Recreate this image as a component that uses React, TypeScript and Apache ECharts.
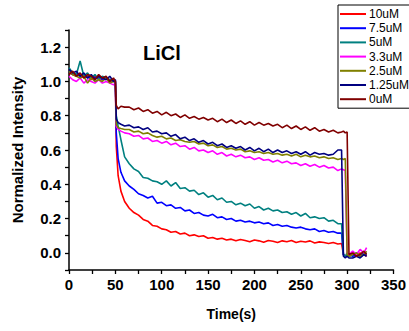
import React, { useEffect, useRef } from "react";
import * as echarts from "echarts";

const seriesNames = ["10uM", "7.5uM", "5uM", "3.3uM", "2.5uM", "1.25uM", "0uM"];
const seriesColors = ["#FF0000", "#0000FF", "#008080", "#FF00FF", "#808000", "#000080", "#800000"];

const time = [
  0, 4, 8, 12, 16, 20, 24, 28, 32, 36, 40, 44, 48,
  50, 51, 53, 56, 60,
  65, 70, 75, 80, 85, 90, 95, 100, 105, 110, 115, 120, 125, 130, 135, 140, 145, 150, 155, 160,
  165, 170, 175, 180, 185, 190, 195, 200, 205, 210, 215, 220, 225, 230, 235, 240, 245, 250, 255,
  260, 265, 270, 275, 280, 285, 290,
  294, 296, 298, 300, 302,
  306, 310, 314, 318, 321,
];

const v10 = [
  1.05, 1.04, 1.03, 1.04, 1.02, 1.03, 1.01, 1.03, 1.02, 1.01, 1.02, 1.0, 1.01,
  1.0, 0.62, 0.45, 0.36, 0.3,
  0.26, 0.235, 0.22, 0.195, 0.185, 0.16, 0.155, 0.14, 0.135, 0.12, 0.125, 0.11, 0.115, 0.1, 0.105, 0.095,
  0.1, 0.085, 0.09, 0.08, 0.085, 0.075, 0.08, 0.07, 0.078, 0.072, 0.065, 0.075, 0.07, 0.062, 0.072, 0.068,
  0.06, 0.07, 0.065, 0.072, 0.06, 0.068, 0.063, 0.07, 0.058, 0.064, 0.06, 0.055, 0.06, 0.052,
  0.055, -0.01, -0.02, -0.01, -0.02,
  -0.01, -0.02, 0.0, -0.01, -0.02,
];
const v7_5 = [
  1.06, 1.04, 1.05, 1.03, 1.04, 1.02, 1.03, 1.02, 1.03, 1.01, 1.02, 1.01, 1.0,
  1.01, 0.7, 0.55, 0.47, 0.42,
  0.39, 0.37, 0.345, 0.335, 0.32, 0.33, 0.29, 0.295, 0.275, 0.28, 0.26, 0.265, 0.245, 0.25, 0.23, 0.235,
  0.22, 0.215, 0.225, 0.205, 0.21, 0.195, 0.2, 0.185, 0.19, 0.18, 0.185, 0.175, 0.18, 0.17, 0.175, 0.16,
  0.165, 0.155, 0.16, 0.15, 0.145, 0.15, 0.14, 0.135, 0.14, 0.125, 0.13, 0.12, 0.125, 0.115,
  0.115, -0.01, -0.02, -0.02, -0.01,
  -0.02, -0.01, -0.02, 0.0, -0.01,
];
const v5 = [
  1.08, 1.05, 1.04, 1.12, 1.03, 1.05, 1.02, 1.04, 1.01, 1.03, 1.02, 1.01, 1.0,
  1.0, 0.8, 0.74, 0.66, 0.56,
  0.52, 0.49, 0.475, 0.44, 0.435, 0.42, 0.415, 0.4, 0.42, 0.39, 0.41, 0.375, 0.38, 0.36, 0.365, 0.34,
  0.35, 0.325, 0.335, 0.31, 0.32, 0.295, 0.3, 0.28, 0.29, 0.275, 0.285, 0.26, 0.27, 0.25, 0.26, 0.245,
  0.25, 0.235, 0.24, 0.225, 0.235, 0.215, 0.23, 0.205, 0.21, 0.2, 0.205, 0.185, 0.19, 0.17,
  0.17, -0.01, -0.02, 0.0, -0.02,
  -0.01, 0.0, -0.02, -0.01, 0.0,
];
const v3_3 = [
  1.03, 1.01, 1.0, 1.02, 0.99, 1.01, 1.0, 0.99, 1.01, 0.99, 1.0, 0.99, 0.98,
  0.99, 0.74, 0.72, 0.71, 0.7,
  0.695, 0.68, 0.685, 0.665, 0.67, 0.65, 0.655, 0.64, 0.65, 0.63, 0.64, 0.62, 0.625, 0.605, 0.615, 0.595,
  0.6, 0.585, 0.595, 0.575, 0.585, 0.565, 0.575, 0.56, 0.57, 0.555, 0.56, 0.545, 0.555, 0.54, 0.545, 0.53,
  0.54, 0.525, 0.535, 0.52, 0.525, 0.51, 0.52, 0.505, 0.515, 0.5, 0.51, 0.495, 0.5, 0.48,
  0.49, 0.485, 0.48, 0.0, -0.01,
  0.01, -0.01, 0.02, 0.0, 0.03,
];
const v2_5 = [
  1.06, 1.04, 1.03, 1.02, 1.03, 0.99, 1.02, 1.0, 1.01, 1.0, 1.02, 0.99, 1.0,
  1.0, 0.75, 0.73, 0.725, 0.72,
  0.72, 0.705, 0.71, 0.695, 0.7, 0.685, 0.675, 0.68, 0.665, 0.67, 0.655, 0.66, 0.65, 0.645, 0.65, 0.635,
  0.64, 0.625, 0.63, 0.615, 0.62, 0.605, 0.61, 0.6, 0.605, 0.59, 0.595, 0.585, 0.59, 0.58, 0.585, 0.575,
  0.58, 0.57, 0.575, 0.565, 0.575, 0.56, 0.57, 0.56, 0.565, 0.555, 0.56, 0.55, 0.555, 0.545,
  0.55, 0.545, 0.55, -0.01, -0.02,
  -0.01, 0.0, -0.02, -0.01, 0.01,
];
const v1_25 = [
  1.07, 1.05, 1.06, 1.03, 1.05, 1.02, 1.04, 1.01, 1.03, 1.02, 1.01, 1.03, 1.0,
  1.01, 0.78, 0.76, 0.75, 0.74,
  0.745, 0.73, 0.735, 0.72, 0.73, 0.705, 0.71, 0.695, 0.7, 0.68, 0.69, 0.665, 0.675, 0.655, 0.665, 0.645,
  0.655, 0.635, 0.645, 0.625, 0.635, 0.615, 0.625, 0.61, 0.62, 0.6, 0.615, 0.595, 0.61, 0.59, 0.605, 0.585,
  0.6, 0.585, 0.595, 0.58, 0.59, 0.575, 0.59, 0.57, 0.585, 0.575, 0.58, 0.57, 0.575, 0.6,
  0.6, -0.02, -0.03, -0.02, -0.03,
  -0.03, -0.02, -0.03, -0.01, -0.02,
];
const v0 = [
  1.04, 1.06, 1.03, 1.05, 1.02, 1.04, 1.03, 1.01, 1.04, 1.02, 1.03, 1.0, 1.02,
  1.0, 0.86, 0.84, 0.855, 0.85,
  0.85, 0.835, 0.845, 0.825, 0.835, 0.815, 0.825, 0.805, 0.82, 0.8, 0.81, 0.79, 0.805, 0.785, 0.795, 0.78,
  0.79, 0.775, 0.785, 0.765, 0.78, 0.76, 0.775, 0.755, 0.77, 0.75, 0.765, 0.745, 0.76, 0.745, 0.755, 0.74,
  0.75, 0.73, 0.745, 0.725, 0.74, 0.72, 0.735, 0.715, 0.73, 0.71, 0.72, 0.705, 0.715, 0.7,
  0.705, 0.71, 0.7, 0.705, -0.01,
  0.0, -0.02, -0.01, 0.01, -0.01,
];

const seriesValues = [v10, v7_5, v5, v3_3, v2_5, v1_25, v0];

const xLabelValues = [0, 50, 100, 150, 200, 250, 300, 350];
const yLabelValues = [0, 0.2, 0.4, 0.6, 0.8, 1.0, 1.2];

const FONT = '"Liberation Sans", Arial, sans-serif';

export default function App() {
  const ref = useRef<HTMLDivElement>(null);
  useEffect(() => {
    if (!ref.current) return;
    const chart = echarts.init(ref.current, null, { renderer: "svg" });
    const axisLine = { show: true, onZero: false, lineStyle: { color: "#000", width: 1.5 } };
    const labelStyle = { color: "#000", fontFamily: FONT, fontWeight: "bold" as const, fontSize: 15 };
    chart.setOption({
      animation: false,
      backgroundColor: "#fff",
      grid: { left: 69, right: 15, top: 30, bottom: 61 },
      legend: {
        orient: "vertical",
        left: 338,
        top: 5,
        padding: [3, 14, 3, 2],
        icon: "rect",
        itemWidth: 26,
        itemHeight: 2,
        itemGap: 2.2,
        borderColor: "#000",
        borderWidth: 1,
        backgroundColor: "#fff",
        textStyle: { color: "#000", fontFamily: FONT, fontSize: 12, lineHeight: 12, padding: [0, 0, 0, -2] },
        data: seriesNames,
      },
      xAxis: {
        type: "value",
        min: 0,
        max: 350,
        interval: 25,
        name: "Time(s)",
        nameLocation: "middle",
        nameGap: 37,
        nameTextStyle: { color: "#000", fontFamily: FONT, fontWeight: "bold", fontSize: 14 },
        axisLine,
        axisTick: { show: true, length: 4, lineStyle: { color: "#000", width: 1.3 } },
        axisLabel: { ...labelStyle, margin: 7, customValues: xLabelValues, formatter: (v: number) => String(v) },
        splitLine: { show: false },
      },
      yAxis: {
        type: "value",
        min: -0.1,
        max: 1.3,
        interval: 0.1,
        name: "Normalized Intensity",
        nameLocation: "middle",
        nameGap: 44,
        nameTextStyle: { color: "#000", fontFamily: FONT, fontWeight: "bold", fontSize: 15 },
        axisLine,
        axisTick: { show: true, length: 4, lineStyle: { color: "#000", width: 1.3 } },
        axisLabel: { ...labelStyle, margin: 8, customValues: yLabelValues, formatter: (v: number) => v.toFixed(1) },
        splitLine: { show: false },
      },
      graphic: [
        {
          type: "text",
          left: 143,
          top: 43,
          style: { text: "LiCl", fill: "#000", font: `bold 20px ${FONT}` },
        },
      ],
      series: seriesNames.map((name, i) => ({
        name,
        type: "line",
        symbol: "none",
        color: seriesColors[i],
        lineStyle: { width: 1.6, color: seriesColors[i] },
        data: time.map((t, k) => [t, seriesValues[i][k]]),
      })),
    });
    return () => chart.dispose();
  }, []);
  return <div ref={ref} style={{ width: 409, height: 331, position: "absolute", left: 0, top: 0 }} />;
}
